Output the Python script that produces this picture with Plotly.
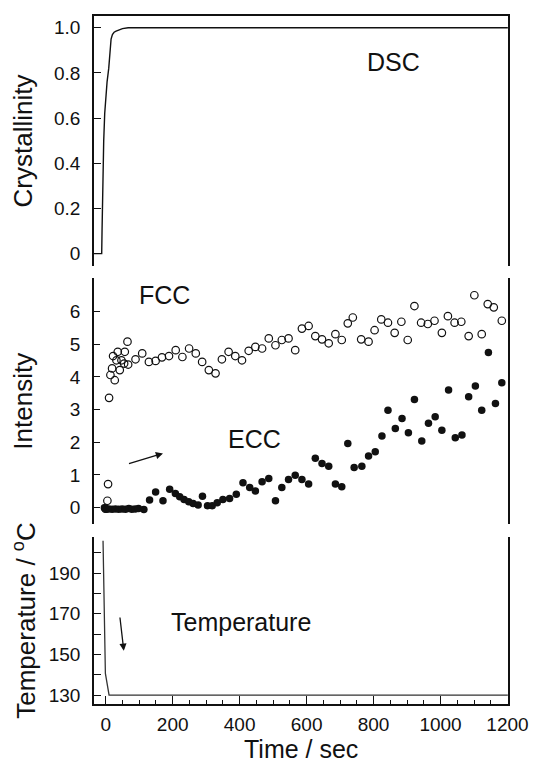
import plotly.graph_objects as go

# ---------------- data ----------------
dsc_time = [-35, -12, -11, -9, -6, -3, 0, 4, 9, 13, 16, 20, 25, 31, 38, 50, 67, 1201]
dsc_cryst = [0, 0, 0.1, 0.3, 0.5, 0.62, 0.7, 0.76, 0.82, 0.9, 0.95, 0.97, 0.98, 0.985, 0.99,
             0.996, 1.0, 1.0]

fcc_time = [-1, 5, 7, 10, 14, 19, 27, 22, 32, 36, 42, 47, 55, 57, 65, 67, 89, 109, 129, 149,
            168, 189, 209, 229, 249, 269, 288, 308, 328, 347, 367, 387, 407, 427, 447, 467,
            487, 507, 526, 546, 566, 586, 606, 626, 646, 666, 686, 705, 723, 738, 763, 785,
            803, 823, 843, 863, 883, 902, 922, 942, 962, 982, 1004, 1022, 1042, 1062, 1084,
            1101, 1123, 1141, 1159, 1183]
fcc_int = [-0.03, 0.21, 0.72, 3.36, 4.06, 4.26, 3.90, 4.64, 4.51, 4.77, 4.21, 4.51, 4.41, 4.77,
           5.08, 4.38, 4.54, 4.72, 4.46, 4.49, 4.60, 4.64, 4.82, 4.61, 4.87, 4.72, 4.46, 4.21,
           4.11, 4.54, 4.77, 4.64, 4.51, 4.80, 4.92, 4.87, 5.18, 4.97, 5.13, 5.18, 4.82, 5.48,
           5.56, 5.25, 5.15, 5.03, 5.31, 5.13, 5.64, 5.82, 5.15, 5.08, 5.43, 5.76, 5.66, 5.35,
           5.69, 5.13, 6.17, 5.66, 5.62, 5.72, 5.35, 5.86, 5.66, 5.69, 5.25, 6.50, 5.31, 6.23,
           6.13, 5.72]

ecc_time = [-4, 2, 9, 19, 29, 39, 49, 59, 69, 78, 88, 98, 114, 131, 149, 171, 191, 208, 221,
            234, 248, 261, 276, 289, 304, 318, 333, 350, 370, 390, 410, 430, 447, 467, 487,
            507, 526, 546, 566, 586, 606, 626, 646, 666, 686, 705, 723, 742, 765, 785, 805,
            825, 843, 865, 885, 904, 922, 944, 964, 984, 1004, 1024, 1044, 1064, 1084, 1104,
            1123, 1143, 1164, 1183]
ecc_int = [0.0, -0.05, -0.04, -0.05, -0.04, -0.05, -0.04, -0.05, -0.03, -0.05, -0.04, -0.03,
           -0.06, 0.23, 0.48, 0.21, 0.56, 0.43, 0.33, 0.25, 0.18, 0.13, 0.08, 0.35, 0.06, 0.06,
           0.15, 0.25, 0.28, 0.41, 0.76, 0.62, 0.51, 0.79, 0.89, 0.21, 0.62, 0.86, 0.99, 0.86,
           0.72, 1.51, 1.35, 1.27, 0.72, 0.64, 1.96, 1.23, 1.27, 1.58, 1.71, 2.19, 2.98, 2.42,
           2.73, 2.29, 3.31, 2.04, 2.58, 2.78, 2.37, 3.60, 2.14, 2.22, 3.39, 3.72, 2.98, 4.75,
           3.19, 3.82]

temp_time = [-8, -1, 10, 1201]
temp_val = [206, 140.7, 130, 130]

x_ticks = [0, 200, 400, 600, 800, 1000, 1200]
cryst_ticks = [0, 0.2, 0.4, 0.6, 0.8, 1.0]
cryst_labels = ["0", "0.2", "0.4", "0.6", "0.8", "1.0"]
int_ticks = [0, 1, 2, 3, 4, 5, 6, 7]
int_labels = ["0", "1", "2", "3", "4", "5", "6", ""]
temp_ticks = [130, 140, 150, 160, 170, 180, 190, 200]
temp_labels = ["130", "", "150", "", "170", "", "190", ""]

# ---------------- figure ----------------
INK = "#111111"
FONT = "Liberation Sans, Arial, sans-serif"
XR = [-35, 1201.5]

fig = go.Figure()
fig.add_trace(go.Scatter(x=dsc_time, y=dsc_cryst, mode="lines", line=dict(color=INK, width=1.4),
                         xaxis="x", yaxis="y", name="DSC", showlegend=False))
fig.add_trace(go.Scatter(x=fcc_time, y=fcc_int, mode="markers",
                         marker=dict(symbol="circle-open", size=7.5, color=INK, line=dict(width=1.2)),
                         xaxis="x2", yaxis="y2", name="FCC", showlegend=False))
fig.add_trace(go.Scatter(x=ecc_time, y=ecc_int, mode="markers",
                         marker=dict(symbol="circle", size=7.5, color=INK),
                         xaxis="x2", yaxis="y2", name="ECC", showlegend=False))
fig.add_trace(go.Scatter(x=temp_time, y=temp_val, mode="lines", line=dict(color="#333333", width=1.3),
                         xaxis="x3", yaxis="y3", name="Temperature", showlegend=False))

ax_common = dict(range=XR, showgrid=False, zeroline=False, linecolor=INK, linewidth=1.5,
                 automargin=False)
ytick_font = dict(family=FONT, size=19, color=INK)
title_font = dict(family=FONT, size=26, color=INK)
y_common = dict(showline=True, mirror=True, ticks="inside", tickwidth=1.3, tickcolor=INK,
                tickfont=ytick_font, ticklabelstandoff=8, showgrid=False, zeroline=False,
                linecolor=INK, linewidth=1.5, automargin=False)

# page body has an 8px default margin, so the figure is sized/offset to compensate
fig.update_layout(
    template="none",
    width=532, height=759,
    margin=dict(l=86, r=31.5, t=8, b=63, autoexpand=False),
    paper_bgcolor="white", plot_bgcolor="white",
    font=dict(family=FONT, color=INK),
    showlegend=False,
    xaxis=dict(domain=[0, 1], anchor="y", side="top", showline=True, ticks="",
               showticklabels=False, **ax_common),
    xaxis2=dict(domain=[0, 1], anchor="y2", showline=False, ticks="",
                showticklabels=False, **ax_common),
    xaxis3=dict(domain=[0, 1], anchor="y3", showline=True, ticks="inside", ticklen=8,
                tickwidth=1.3, tickcolor=INK, tickvals=x_ticks, tickfont=ytick_font,
                ticklabelstandoff=2,
                minor=dict(dtick=50, tick0=0, ticks="inside", ticklen=4, tickwidth=1.2, tickcolor=INK),
                **ax_common),
    yaxis=dict(domain=[0.6366, 1], anchor="x", range=[-0.055, 1.052], ticklen=7,
               tickvals=cryst_ticks, ticktext=cryst_labels,
               title=dict(text="Crystallinity", font=title_font), **y_common),
    yaxis2=dict(domain=[0.2612, 0.6188], anchor="x2", range=[-0.51, 7.02], ticklen=6,
                tickvals=int_ticks, ticktext=int_labels,
                title=dict(text="Intensity", font=title_font), **y_common),
    yaxis3=dict(domain=[0, 0.2427], anchor="x3", range=[125.6, 207.8], ticklen=7,
                tickvals=temp_ticks, ticktext=temp_labels,
                title=dict(text="Temperature / <sup>o</sup>C", font=title_font), **y_common),
)

# x-axis title (placed as paper annotation for exact position under the bottom axis)
fig.add_annotation(x=0.5, y=0, xref="paper", yref="paper", text="Time / sec", showarrow=False,
                   xanchor="center", yanchor="middle", yshift=-45,
                   font=dict(family=FONT, size=25, color=INK))

lab_font = dict(family=FONT, size=25, color=INK)
fig.add_annotation(x=860, y=0.85, xref="x", yref="y", text="DSC", showarrow=False, font=lab_font)
fig.add_annotation(x=176, y=6.5, xref="x2", yref="y2", text="FCC", showarrow=False, font=lab_font)
fig.add_annotation(x=443, y=2.09, xref="x2", yref="y2", text="ECC", showarrow=False, font=lab_font)
fig.add_annotation(x=403, y=166, xref="x3", yref="y3", text="Temperature", showarrow=False, font=lab_font)

# arrows
fig.add_annotation(x=171, y=1.66, ax=65, ay=1.33, xref="x2", yref="y2", axref="x2", ayref="y2",
                   text="", showarrow=True, arrowhead=2, arrowsize=1.1, arrowwidth=1.3, arrowcolor=INK)
fig.add_annotation(x=54, y=151.8, ax=42, ay=168.9, xref="x3", yref="y3", axref="x3", ayref="y3",
                   text="", showarrow=True, arrowhead=2, arrowsize=1.1, arrowwidth=1.3, arrowcolor=INK)

fig.write_html("out.html")
